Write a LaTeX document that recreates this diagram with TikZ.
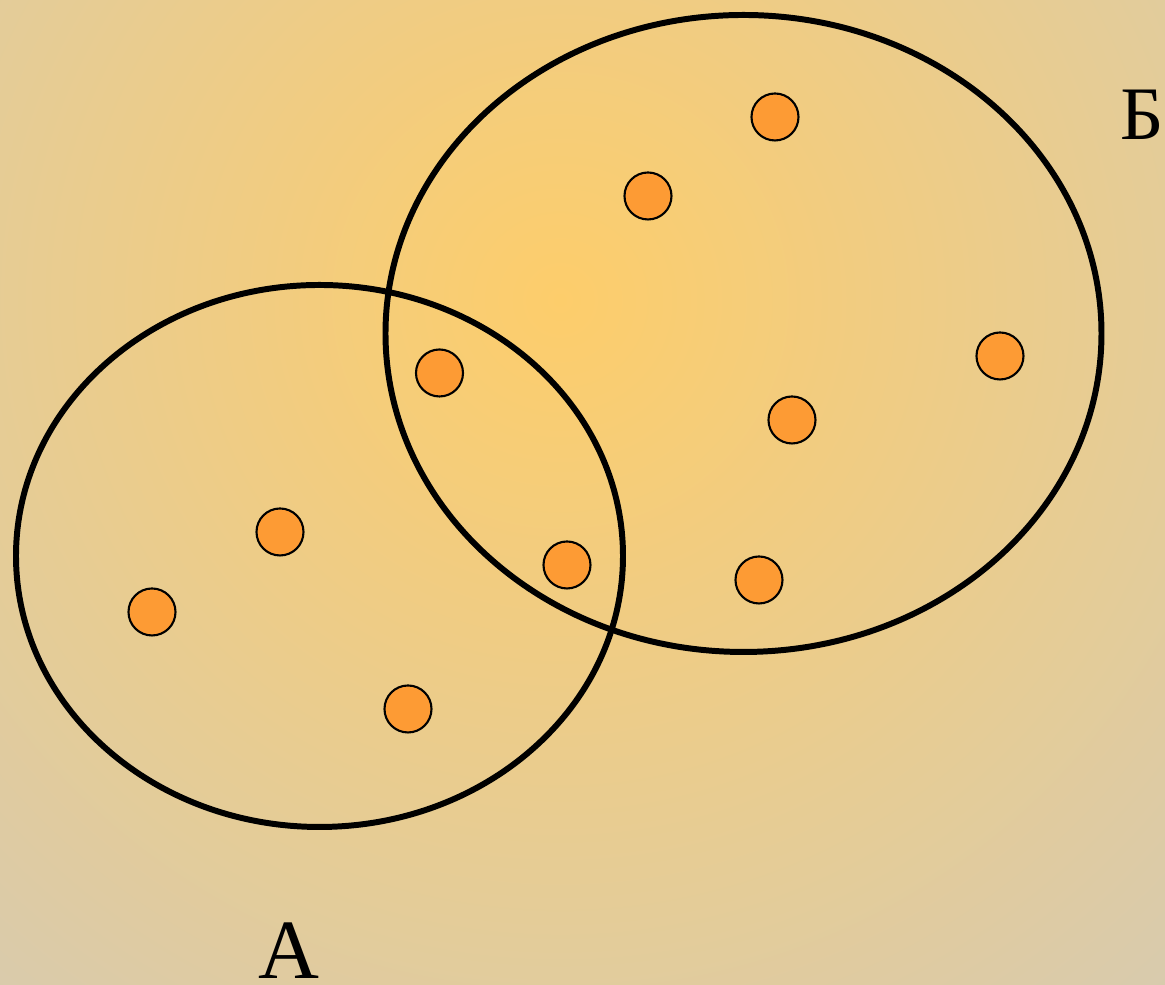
\documentclass[tikz,border=0pt]{standalone}
\usepackage{fontspec}
\setmainfont{Liberation Serif}
\usetikzlibrary{shapes.geometric}
\definecolor{glowcentre}{RGB}{253,205,107}
\definecolor{glowedge}{RGB}{216,203,174}
\definecolor{elemorange}{RGB}{253,155,52}
\tikzset{
  setring/.style={ellipse, draw=black, line width=1.7pt, inner sep=0pt},
  elem/.style={circle, draw=black, line width=0.6pt, fill=elemorange,
               minimum size=0.47cm, inner sep=0pt},
  setlabel/.style={inner sep=0pt, anchor=base, text=black},
}

\begin{document}
\begin{tikzpicture}

  % ── Background glow ──────────────────────────────────────────────────
  \useasboundingbox (0,0) rectangle (11.65,9.85);
  \begin{scope}
    \clip (0,0) rectangle (11.65,9.85);
    \shade[inner color=glowcentre, outer color=glowedge] (5.6,6.85) circle (9.2);
  \end{scope}

  % ── Sets ─────────────────────────────────────────────────────────────
  \node[setring, minimum width=6.07cm, minimum height=5.42cm] (setA) at (3.195,4.29) {};
  \node[setring, minimum width=7.16cm, minimum height=6.37cm] (setB) at (7.435,6.515) {};

  % ── Elements ─────────────────────────────────────────────────────────
  \node[elem] (e1)  at (7.75,8.68) {};
  \node[elem] (e2)  at (6.48,7.89) {};
  \node[elem] (e3)  at (4.395,6.12) {};
  \node[elem] (e4)  at (10.00,6.29) {};
  \node[elem] (e5)  at (7.92,5.65) {};
  \node[elem] (e6)  at (2.80,4.53) {};
  \node[elem] (e7)  at (5.67,4.20) {};
  \node[elem] (e8)  at (1.52,3.73) {};
  \node[elem] (e9)  at (7.59,4.05) {};
  \node[elem] (e10) at (4.08,2.76) {};

  % ── Labels ───────────────────────────────────────────────────────────
  \node[setlabel, font=\fontsize{21.5}{24}\selectfont] (labB) at (11.42,8.45) {Б};
  \node[setlabel, font=\fontsize{24}{28}\selectfont] (labA) at (2.89,0.06) {А};

\end{tikzpicture}
\end{document}
